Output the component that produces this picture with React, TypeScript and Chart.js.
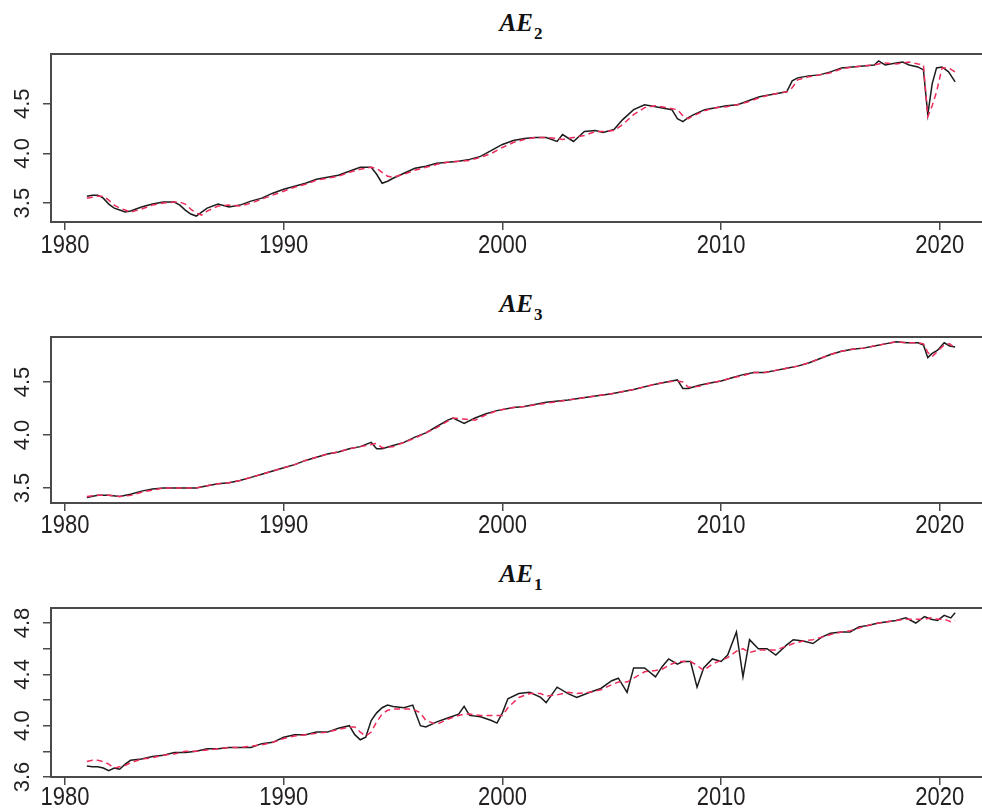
import React, { useEffect, useRef } from 'react';
import { Chart, registerables } from 'chart.js';

Chart.register(...registerables);

// ---------- data ----------
const X_MIN = 1979.36;
const X_MAX = 2022.34;
const X_TICKS = [1980, 1990, 2000, 2010, 2020];

// AE2 panel
const ae2Years = [1981.0, 1981.25, 1981.5, 1981.75, 1982.0, 1982.25, 1982.5, 1982.75, 1983.0, 1983.5, 1984.0, 1984.5, 1985.0, 1985.25, 1985.5, 1985.75, 1986.0, 1986.25, 1986.5, 1987.0, 1987.5, 1988.0, 1988.5, 1989.0, 1989.5, 1990.0, 1990.5, 1991.0, 1991.5, 1992.0, 1992.5, 1993.0, 1993.5, 1994.0, 1994.25, 1994.5, 1994.75, 1995.0, 1995.5, 1996.0, 1996.5, 1997.0, 1997.5, 1998.0, 1998.5, 1999.0, 1999.5, 2000.0, 2000.5, 2001.0, 2001.5, 2002.0, 2002.5, 2002.75, 2003.25, 2003.75, 2004.25, 2004.6, 2005.1, 2005.5, 2006.0, 2006.5, 2007.0, 2007.5, 2007.75, 2008.0, 2008.25, 2008.5, 2008.75, 2009.25, 2009.75, 2010.25, 2010.75, 2011.25, 2011.75, 2012.25, 2012.75, 2013.0, 2013.25, 2013.5, 2014.0, 2014.5, 2015.0, 2015.5, 2016.0, 2016.5, 2017.0, 2017.2, 2017.5, 2018.0, 2018.3, 2018.6, 2019.0, 2019.25, 2019.45, 2019.65, 2019.85, 2020.1, 2020.4, 2020.7];
const ae2Actual = [3.57, 3.58, 3.58, 3.55, 3.49, 3.45, 3.43, 3.41, 3.42, 3.46, 3.49, 3.51, 3.51, 3.48, 3.43, 3.39, 3.37, 3.41, 3.45, 3.49, 3.46, 3.48, 3.52, 3.55, 3.6, 3.64, 3.67, 3.7, 3.74, 3.76, 3.78, 3.82, 3.86, 3.86, 3.79, 3.7, 3.72, 3.75, 3.8, 3.85, 3.87, 3.9, 3.91, 3.92, 3.94, 3.97, 4.03, 4.09, 4.13, 4.15, 4.16, 4.16, 4.12, 4.19, 4.12, 4.22, 4.23, 4.21, 4.24, 4.34, 4.44, 4.49, 4.47, 4.45, 4.44, 4.35, 4.32, 4.36, 4.39, 4.44, 4.46, 4.48, 4.49, 4.53, 4.57, 4.59, 4.61, 4.62, 4.73, 4.76, 4.78, 4.79, 4.82, 4.86, 4.87, 4.88, 4.89, 4.93, 4.89, 4.91, 4.92, 4.89, 4.87, 4.84, 4.39, 4.7, 4.86, 4.87, 4.82, 4.72];
const ae2Fitted = [3.55, 3.56, 3.57, 3.57, 3.53, 3.48, 3.45, 3.43, 3.41, 3.44, 3.48, 3.5, 3.51, 3.51, 3.49, 3.44, 3.4, 3.38, 3.42, 3.47, 3.48, 3.47, 3.5, 3.54, 3.58, 3.62, 3.66, 3.69, 3.73, 3.75, 3.77, 3.81, 3.84, 3.86, 3.85, 3.81, 3.77, 3.76, 3.79, 3.83, 3.86, 3.89, 3.91, 3.92, 3.93, 3.96, 4.0, 4.06, 4.11, 4.14, 4.16, 4.16, 4.15, 4.14, 4.16, 4.18, 4.22, 4.22, 4.23, 4.29, 4.39, 4.46, 4.48, 4.46, 4.45, 4.44, 4.38, 4.35, 4.38, 4.43, 4.46, 4.47, 4.49, 4.52, 4.56, 4.59, 4.61, 4.62, 4.66, 4.74, 4.77, 4.79, 4.81, 4.85, 4.87, 4.88, 4.89, 4.9, 4.91, 4.9, 4.91, 4.92, 4.9, 4.89, 4.37, 4.48, 4.62, 4.86, 4.86, 4.82];

// AE3 panel
const ae3Years = [1981.0, 1981.5, 1982.0, 1982.5, 1983.0, 1983.5, 1984.0, 1984.5, 1985.0, 1985.5, 1986.0, 1986.5, 1987.0, 1987.5, 1988.0, 1988.5, 1989.0, 1989.5, 1990.0, 1990.5, 1991.0, 1991.5, 1992.0, 1992.5, 1993.0, 1993.5, 1994.0, 1994.25, 1994.5, 1995.0, 1995.5, 1996.0, 1996.5, 1997.0, 1997.5, 1997.75, 1998.25, 1998.75, 1999.25, 1999.75, 2000.5, 2001.0, 2002.0, 2003.0, 2004.0, 2005.0, 2006.0, 2007.0, 2007.5, 2008.0, 2008.25, 2008.5, 2009.0, 2009.5, 2010.0, 2010.5, 2011.0, 2011.5, 2012.0, 2012.5, 2013.0, 2013.5, 2014.0, 2014.5, 2015.0, 2015.5, 2016.0, 2016.5, 2017.0, 2017.5, 2018.0, 2018.5, 2019.0, 2019.25, 2019.45, 2019.65, 2019.9, 2020.2, 2020.45, 2020.7];
const ae3Actual = [3.41, 3.43, 3.43, 3.42, 3.44, 3.47, 3.49, 3.5, 3.5, 3.5, 3.5, 3.52, 3.54, 3.55, 3.57, 3.6, 3.63, 3.66, 3.69, 3.72, 3.76, 3.79, 3.82, 3.84, 3.87, 3.89, 3.93, 3.87, 3.87, 3.9, 3.93, 3.98, 4.02, 4.08, 4.14, 4.16, 4.11, 4.16, 4.2, 4.23, 4.26, 4.27, 4.31, 4.33, 4.36, 4.39, 4.43, 4.48, 4.5, 4.52, 4.44, 4.44, 4.47, 4.49, 4.51, 4.54, 4.57, 4.59, 4.59, 4.61, 4.63, 4.65, 4.68, 4.72, 4.76, 4.79, 4.81, 4.82, 4.84, 4.86, 4.88, 4.87, 4.87, 4.85, 4.73, 4.77, 4.8, 4.87, 4.84, 4.83];
const ae3Fitted = [3.42, 3.43, 3.43, 3.42, 3.43, 3.46, 3.48, 3.5, 3.5, 3.5, 3.5, 3.52, 3.54, 3.55, 3.57, 3.6, 3.63, 3.66, 3.69, 3.72, 3.76, 3.79, 3.82, 3.84, 3.87, 3.89, 3.91, 3.92, 3.88, 3.89, 3.93, 3.97, 4.02, 4.07, 4.13, 4.16, 4.15, 4.14, 4.19, 4.23, 4.26, 4.27, 4.3, 4.33, 4.36, 4.39, 4.43, 4.48, 4.5, 4.51, 4.5, 4.45, 4.46, 4.49, 4.51, 4.54, 4.56, 4.59, 4.59, 4.61, 4.63, 4.65, 4.68, 4.72, 4.76, 4.79, 4.81, 4.82, 4.84, 4.86, 4.88, 4.87, 4.87, 4.86, 4.78, 4.74, 4.79, 4.85, 4.86, 4.82];

// AE1 panel
const ae1Years = [1981.0, 1981.25, 1981.5, 1981.75, 1982.0, 1982.25, 1982.5, 1982.75, 1983.0, 1983.5, 1984.0, 1984.5, 1985.0, 1985.5, 1986.0, 1986.5, 1987.0, 1987.5, 1988.0, 1988.5, 1989.0, 1989.5, 1990.0, 1990.5, 1991.0, 1991.5, 1992.0, 1992.5, 1993.0, 1993.25, 1993.5, 1993.75, 1994.0, 1994.25, 1994.5, 1994.75, 1995.0, 1995.5, 1995.9, 1996.25, 1996.5, 1997.0, 1997.5, 1998.0, 1998.25, 1998.5, 1999.0, 1999.5, 1999.75, 2000.0, 2000.25, 2000.75, 2001.25, 2001.75, 2002.0, 2002.5, 2003.0, 2003.4, 2004.0, 2004.5, 2005.0, 2005.3, 2005.7, 2006.0, 2006.5, 2007.0, 2007.3, 2007.6, 2008.0, 2008.25, 2008.6, 2008.9, 2009.2, 2009.6, 2010.0, 2010.3, 2010.7, 2011.0, 2011.3, 2011.7, 2012.1, 2012.5, 2013.0, 2013.3, 2013.75, 2014.2, 2014.6, 2015.0, 2015.5, 2015.9, 2016.3, 2016.7, 2017.2, 2017.6, 2018.0, 2018.45, 2018.9, 2019.3, 2019.6, 2019.9, 2020.2, 2020.5, 2020.7];
const ae1Actual = [3.685, 3.68, 3.68, 3.67, 3.65, 3.67, 3.66, 3.7, 3.73, 3.74, 3.76, 3.77, 3.79, 3.79, 3.8, 3.82, 3.82, 3.83, 3.83, 3.83, 3.86, 3.87, 3.91, 3.93, 3.93, 3.95, 3.95, 3.98, 4.0, 3.93, 3.89, 3.91, 4.04, 4.1, 4.14, 4.16, 4.15, 4.14, 4.16, 4.0, 3.99, 4.03, 4.06, 4.09, 4.15, 4.08, 4.07, 4.04, 4.02, 4.1, 4.21, 4.25, 4.26, 4.22, 4.18, 4.3, 4.25, 4.22, 4.26, 4.29, 4.35, 4.37, 4.26, 4.45, 4.45, 4.38, 4.46, 4.52, 4.48, 4.5, 4.5, 4.3, 4.45, 4.52, 4.5, 4.55, 4.73, 4.38, 4.67, 4.6, 4.6, 4.55, 4.63, 4.67, 4.66, 4.64, 4.69, 4.72, 4.73, 4.73, 4.77, 4.78, 4.8, 4.81, 4.82, 4.84, 4.8, 4.85, 4.83, 4.82, 4.86, 4.84, 4.88];
const ae1Fitted = [3.72, 3.73, 3.73, 3.72, 3.7, 3.67, 3.68, 3.69, 3.71, 3.74, 3.75, 3.77, 3.78, 3.8, 3.8, 3.81, 3.82, 3.83, 3.83, 3.84, 3.85, 3.87, 3.9, 3.92, 3.93, 3.94, 3.95, 3.97, 3.99, 3.99, 3.95, 3.92, 3.95, 4.03, 4.09, 4.12, 4.13, 4.13, 4.13, 4.1, 4.04, 4.01, 4.05, 4.08, 4.09, 4.09, 4.08, 4.08, 4.08, 4.08, 4.14, 4.22, 4.25, 4.25, 4.23, 4.24, 4.26, 4.25, 4.26, 4.28, 4.32, 4.34, 4.34, 4.37, 4.42, 4.43, 4.44, 4.47, 4.5, 4.5, 4.5, 4.47, 4.43, 4.48, 4.51, 4.53, 4.58, 4.6, 4.57, 4.59, 4.59, 4.59, 4.62, 4.64, 4.66, 4.67, 4.69, 4.71, 4.73, 4.74, 4.76, 4.78, 4.8, 4.81, 4.82, 4.83, 4.83, 4.83, 4.84, 4.83, 4.83, 4.81, 4.82];

// ---------- styles ----------
const BLACK = '#1c1c1c';
const RED = '#ee2c5c';
const FRAME = '#4a4a4a';
const TEXT = '#231f20';
const CANVAS_W = 1000;
const Y_LABEL_X = 23;

type PanelProps = {
  top: number;
  height: number;
  areaTop: number;
  areaBottom: number;
  yMin: number;
  yMax: number;
  yTicks: number[];
  yLabels: number[];
  years: number[];
  actual: number[];
  fitted: number[];
  labelBaseline: number;
};

function Panel(p: PanelProps) {
  const ref = useRef<HTMLCanvasElement>(null);
  useEffect(() => {
    const canvas = ref.current;
    if (!canvas) return;
    const framePlugin = {
      id: 'framePlugin',
      afterDraw(chart: any) {
        const { ctx, chartArea: a } = chart;
        ctx.save();
        ctx.strokeStyle = FRAME;
        ctx.lineWidth = 2;
        ctx.strokeRect(a.left, a.top, a.right - a.left, a.bottom - a.top);
        ctx.fillStyle = TEXT;
        // y tick labels (rotated, R style)
        const ys = chart.scales.y;
        ctx.font = '22px "Liberation Sans"';
        ctx.textAlign = 'center';
        ctx.textBaseline = 'middle';
        for (const v of p.yLabels) {
          const py = ys.getPixelForValue(v);
          ctx.save();
          ctx.translate(Y_LABEL_X, py);
          ctx.rotate(-Math.PI / 2);
          ctx.fillText(v.toFixed(1), 0, 0);
          ctx.restore();
        }
        // x tick labels (condensed)
        const xs = chart.scales.x;
        ctx.font = '25px "Liberation Sans"';
        ctx.textAlign = 'center';
        ctx.textBaseline = 'alphabetic';
        for (const v of X_TICKS) {
          const px = xs.getPixelForValue(v);
          ctx.save();
          ctx.translate(px, p.labelBaseline - p.top);
          ctx.scale(0.88, 1);
          ctx.fillText(String(v), 0, 0);
          ctx.restore();
        }
        ctx.restore();
      },
    };
    const chart = new Chart(canvas, {
      type: 'line',
      data: {
        datasets: [
          {
            data: p.years.map((x, i) => ({ x, y: p.fitted[i] })),
            borderColor: RED,
            borderDash: [6, 4],
            borderWidth: 1.5,
            pointRadius: 0,
            fill: false,
            tension: 0,
          },
          {
            data: p.years.map((x, i) => ({ x, y: p.actual[i] })),
            borderColor: BLACK,
            borderWidth: 1.5,
            pointRadius: 0,
            fill: false,
            tension: 0,
          },
        ],
      },
      options: {
        responsive: false,
        animation: false,
        events: [],
        layout: { padding: { top: p.areaTop - p.top, right: 9, left: 0, bottom: 0 } },
        plugins: { legend: { display: false }, tooltip: { enabled: false }, title: { display: false } },
        scales: {
          x: {
            type: 'linear',
            min: X_MIN,
            max: X_MAX,
            afterBuildTicks: (s: any) => {
              s.ticks = X_TICKS.map((v) => ({ value: v }));
            },
            afterFit: (s: any) => {
              s.height = p.height - (p.areaBottom - p.top);
            },
            grid: { drawOnChartArea: false, drawTicks: true, tickLength: 8, color: FRAME, lineWidth: 1.5 },
            border: { display: false },
            ticks: { display: false },
          },
          y: {
            type: 'linear',
            min: p.yMin,
            max: p.yMax,
            afterBuildTicks: (s: any) => {
              s.ticks = p.yTicks.map((v) => ({ value: v }));
            },
            afterFit: (s: any) => {
              s.width = 51;
            },
            grid: { drawOnChartArea: false, drawTicks: true, tickLength: 8, color: FRAME, lineWidth: 1.5 },
            border: { display: false },
            ticks: { display: false },
          },
        },
      },
      plugins: [framePlugin],
    } as any);
    return () => chart.destroy();
  }, []);
  return (
    <canvas
      ref={ref}
      width={CANVAS_W}
      height={p.height}
      style={{ position: 'absolute', left: 0, top: p.top, width: CANVAS_W, height: p.height }}
    />
  );
}

function Title({ top, sub }: { top: number; sub: string }) {
  return (
    <div
      style={{
        position: 'absolute',
        left: 0,
        width: 1042,
        top,
        textAlign: 'center',
        fontFamily: '"Liberation Serif", serif',
        fontWeight: 'bold',
        fontStyle: 'italic',
        fontSize: 25,
        lineHeight: '25px',
        color: '#111',
        whiteSpace: 'nowrap',
      }}
    >
      AE
      <span style={{ fontSize: 17, fontStyle: 'normal', position: 'relative', top: 8, marginLeft: 1 }}>{sub}</span>
    </div>
  );
}

export default function App() {
  return (
    <div
      style={{
        position: 'absolute',
        left: 0,
        top: 0,
        width: 982,
        height: 808,
        overflow: 'hidden',
        background: '#fff',
      }}
    >
      <Title top={10} sub="2" />
      <Panel
        top={0}
        height={270}
        areaTop={54}
        areaBottom={222}
        yMin={3.31}
        yMax={5.0}
        yTicks={[3.5, 4.0, 4.5]}
        yLabels={[3.5, 4.0, 4.5]}
        years={ae2Years}
        actual={ae2Actual}
        fitted={ae2Fitted}
        labelBaseline={253}
      />
      <Title top={291} sub="3" />
      <Panel
        top={270}
        height={270}
        areaTop={337}
        areaBottom={503}
        yMin={3.358}
        yMax={4.925}
        yTicks={[3.5, 4.0, 4.5]}
        yLabels={[3.5, 4.0, 4.5]}
        years={ae3Years}
        actual={ae3Actual}
        fitted={ae3Fitted}
        labelBaseline={533}
      />
      <Title top={561} sub="1" />
      <Panel
        top={540}
        height={268}
        areaTop={608}
        areaBottom={777}
        yMin={3.6}
        yMax={4.917}
        yTicks={[3.6, 3.8, 4.0, 4.2, 4.4, 4.6, 4.8]}
        yLabels={[3.6, 4.0, 4.4, 4.8]}
        years={ae1Years}
        actual={ae1Actual}
        fitted={ae1Fitted}
        labelBaseline={805}
      />
    </div>
  );
}
